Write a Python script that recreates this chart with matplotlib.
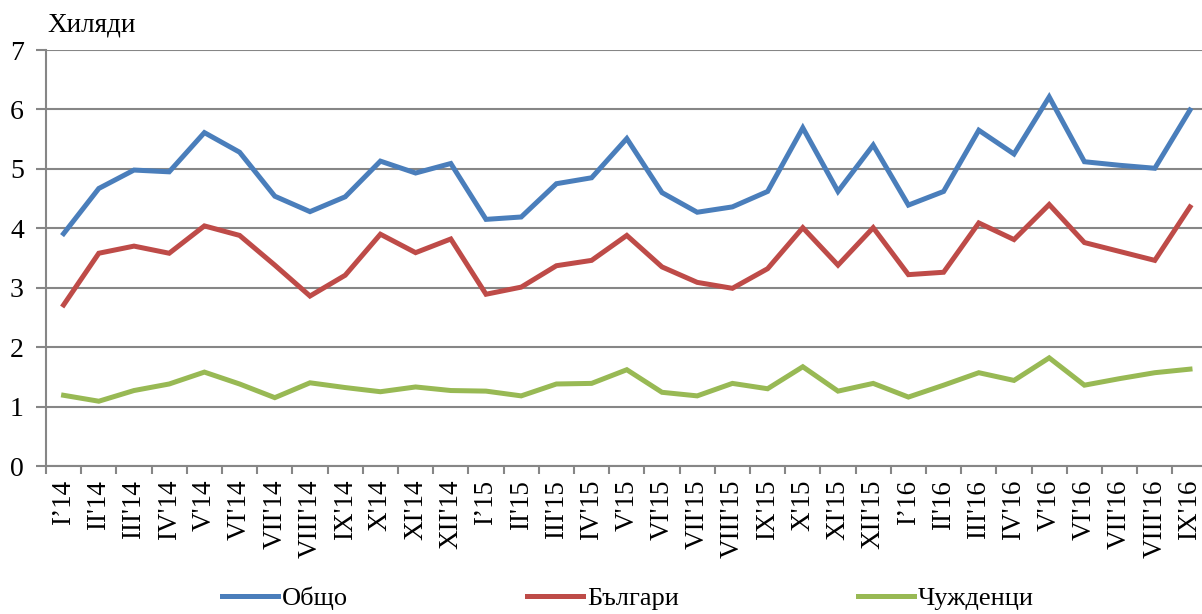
import numpy as np
import matplotlib.pyplot as plt

plt.rcParams['font.family'] = ['Liberation Serif', 'DejaVu Serif']

# month labels
months = ["I’14", "II'14", "III'14", "IV'14", "V'14", "VI'14", "VII'14", "VIII'14",
          "IX'14", "X'14", "XI'14", "XII'14",
          "I’15", "II'15", "III'15", "IV'15", "V'15", "VI'15", "VII'15", "VIII'15",
          "IX'15", "X'15", "XI'15", "XII'15",
          "I’16", "II'16", "III'16", "IV'16", "V'16", "VI'16", "VII'16", "VIII'16",
          "IX'16"]

# thousands
total = [3.91, 4.67, 4.98, 4.95, 5.61, 5.28, 4.54, 4.28, 4.53, 5.13, 4.93, 5.09,
         4.15, 4.19, 4.75, 4.85, 5.51, 4.60, 4.27, 4.36, 4.62, 5.69, 4.62, 5.40,
         4.39, 4.62, 5.65, 5.25, 6.21, 5.12, 5.06, 5.01, 5.99]
bulgarians = [2.71, 3.58, 3.70, 3.58, 4.04, 3.88, 3.38, 2.86, 3.21, 3.90, 3.59, 3.82,
              2.89, 3.01, 3.37, 3.46, 3.88, 3.35, 3.09, 2.99, 3.32, 4.01, 3.38, 4.01,
              3.22, 3.26, 4.09, 3.81, 4.40, 3.76, 3.61, 3.46, 4.36]
foreigners = [1.19, 1.09, 1.27, 1.38, 1.58, 1.38, 1.15, 1.40, 1.32, 1.25, 1.33, 1.27,
              1.26, 1.18, 1.38, 1.39, 1.62, 1.24, 1.18, 1.39, 1.30, 1.67, 1.26, 1.39,
              1.16, 1.36, 1.57, 1.44, 1.82, 1.36, 1.47, 1.57, 1.63]

grey = '#868686'
fig = plt.figure(figsize=(12.02, 6.14), dpi=100)
ax = fig.add_axes([46/1202, 1 - 466/614, 1161.6/1202, 416/614])

x = np.arange(len(months))
ax.plot(x, total, color='#4a7ebb', lw=3.6, label='Общо', solid_joinstyle='miter')
ax.plot(x, bulgarians, color='#be4b48', lw=3.6, label='Българи', solid_joinstyle='miter')
ax.plot(x, foreigners, color='#98b954', lw=3.6, label='Чужденци', solid_joinstyle='miter')

ax.set_xlim(-0.5, len(months) - 0.5)
ax.set_ylim(0, 7)
ax.set_yticks(range(8))
ax.grid(axis='y', color=grey, lw=1.5)
ax.set_axisbelow(True)
ax.set_xticks(np.arange(len(months) + 1) - 0.5, minor=False)
ax.set_xticklabels([])
ax.set_xticks(x, minor=True)
ax.set_xticklabels(months, minor=True, rotation=90, fontsize=19.5)
ax.tick_params(axis='x', which='minor', length=0, pad=10)
ax.tick_params(axis='x', which='major', length=6, width=1.5, color=grey)
ax.tick_params(axis='y', length=7, width=1.5, color=grey, labelsize=20, pad=9)
for s in ['top', 'right']:
    ax.spines[s].set_visible(False)
for s in ['left', 'bottom']:
    ax.spines[s].set_color(grey)
    ax.spines[s].set_linewidth(1.5)

fig.text(47/1202, 1 - 25/614, 'Хиляди', fontsize=19.5, ha='left', va='center')

# legend sits a little higher than in the original so its text is not clipped
fig.legend(loc='center', bbox_to_anchor=(628/1202, 1 - 598/614), ncol=3, frameon=False,
           fontsize=19, handlelength=2.1, handletextpad=0.15, columnspacing=6.8,
           borderaxespad=0)

fig.savefig('out.png', dpi=100)
